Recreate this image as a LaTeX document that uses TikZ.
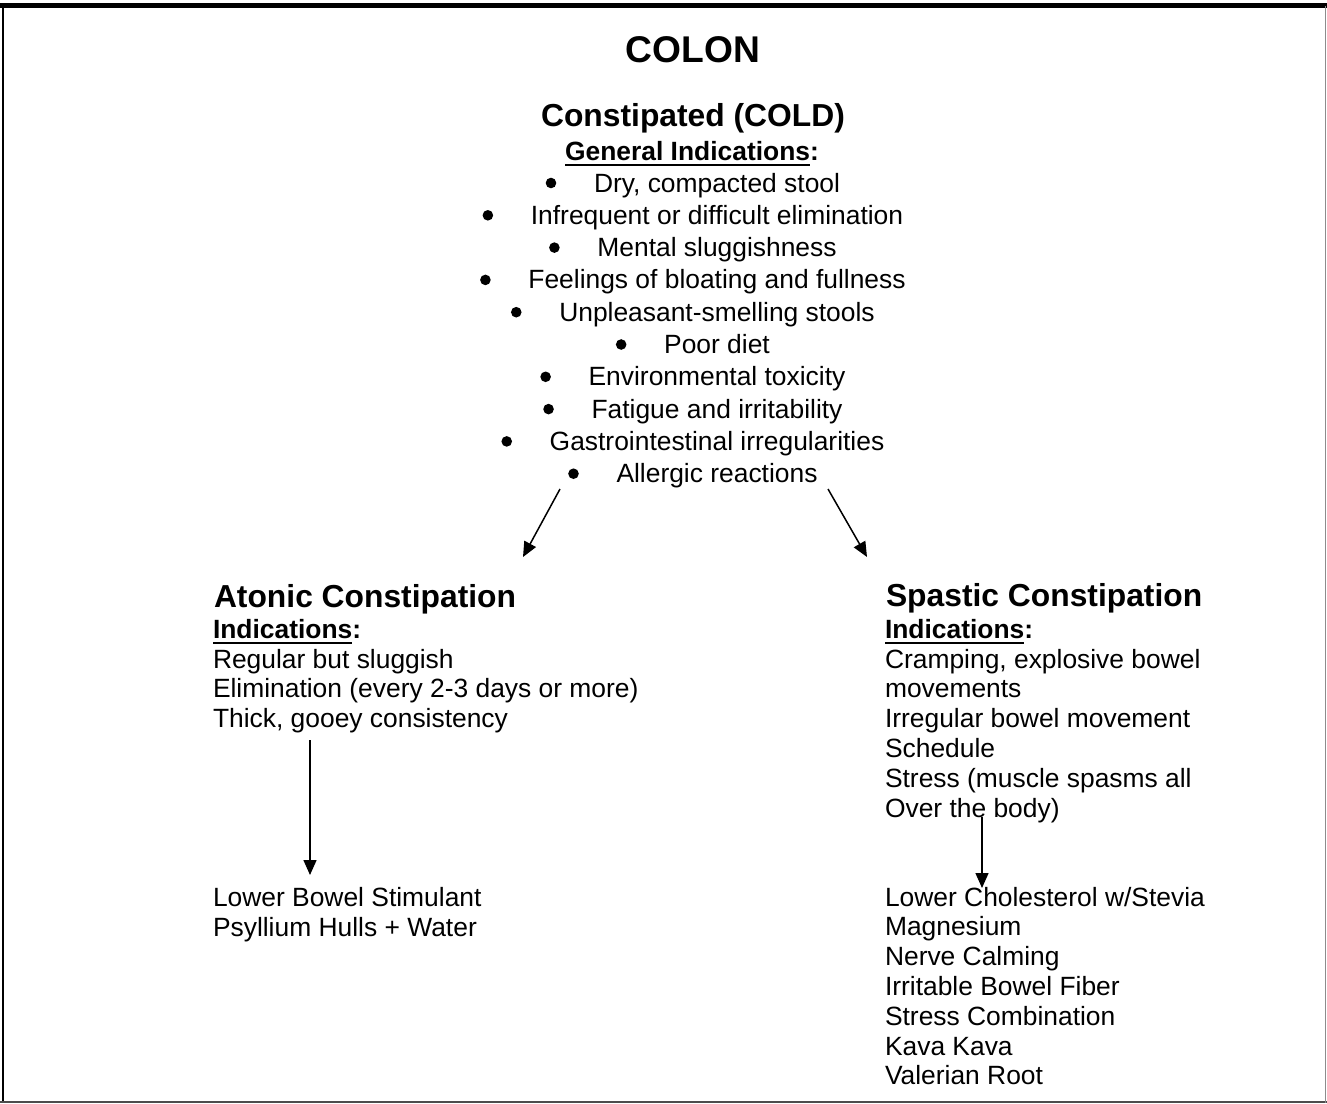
\documentclass[tikz,border=0pt]{standalone}
\usepackage{fontspec}
\setmainfont{Liberation Sans}
\usetikzlibrary{arrows.meta,calc}
\newcommand\bodyfont{\fontsize{26.4}{29.6}\selectfont}
\newcommand\headfont{\fontsize{31.8}{36}\selectfont\bfseries}
\newcommand\titlefont{\fontsize{37.2}{42}\selectfont\bfseries}
\newcommand\myul[1]{\setbox0\hbox{#1}\rlap{\rule[-6.3pt]{\wd0}{2.5pt}}\box0}
\begin{document}
\begin{tikzpicture}[x=1pt,y=-1pt,
  every node/.style={inner sep=0pt,outer sep=0pt},
  txt/.style={anchor=base west,font=\bodyfont},
  ctr/.style={anchor=base,font=\bodyfont},
  arr/.style={line width=1.5pt,-{Triangle[length=15pt,width=13pt]}}]
\useasboundingbox (0,0) rectangle (1327,1103);
% frame
\draw[line width=5pt] (0,5) -- (1327,5);
\draw[line width=2.5pt] (2.8,5) -- (2.8,1102.5);
\draw[line width=2pt,black!70] (0,1102) -- (1327,1102);
\draw[line width=1.5pt,black!45] (1325.5,6) -- (1325.5,1103);
% top block
\node[ctr,font=\titlefont] (title) at (693,62) {COLON};
\node[ctr,font=\headfont] (cold) at (693,126.5) {Constipated (COLD)};
\node[ctr] (gen) at (692,160) {\textbf{\myul{General Indications}:}};
\foreach \t [count=\i from 0] in {{Dry, compacted stool},
  {Infrequent or difficult elimination},
  {Mental sluggishness},
  {Feelings of bloating and fullness},
  {Unpleasant-smelling stools},
  {Poor diet},
  {Environmental toxicity},
  {Fatigue and irritability},
  {Gastrointestinal irregularities},
  {Allergic reactions}}
  {
  \node[ctr] (b\i) at (717,192+32.3*\i) {\t};
  \fill ($(b\i.base west)+(-43,-9)$) circle (5.3);
  }
% left column
\node[txt,font=\headfont] (atonic) at (214,607) {Atonic Constipation};
\node[txt] (aind) at (213,638) {\textbf{\myul{Indications}:}};
\node[txt] (a1) at (213,668) {Regular but sluggish};
\node[txt] (a2) at (213,697.5) {Elimination (every 2-3 days or more)};
\node[txt] (a3) at (213,727) {Thick, gooey consistency};
\node[txt] (ar1) at (213,906) {Lower Bowel Stimulant};
\node[txt] (ar2) at (213,936) {Psyllium Hulls + Water};
% right column
\node[txt,font=\headfont] (spastic) at (886,606) {Spastic Constipation};
\node[txt] (sind) at (885,638) {\textbf{\myul{Indications}:}};
\foreach \t [count=\i from 0] in {{Cramping, explosive bowel},
  {movements},
  {Irregular bowel movement},
  {Schedule},
  {Stress (muscle spasms all},
  {Over the body)}}
  \node[txt] (s\i) at (885,668+29.8*\i) {\t};
\foreach \t [count=\i from 0] in {{Lower Cholesterol w/Stevia},
  {Magnesium},
  {Nerve Calming},
  {Irritable Bowel Fiber},
  {Stress Combination},
  {Kava Kava},
  {Valerian Root}}
  \node[txt] (r\i) at (885,906+29.8*\i) {\t};
% connectors
\coordinate (l1) at (560,489);
\coordinate (l2) at (523,557);
\coordinate (r1) at (828,489);
\coordinate (r2) at (867,557);
\coordinate (v1) at (310,740);
\coordinate (v2) at (310,875);
\coordinate (w1) at (982,817);
\coordinate (w2) at (982,888);
\draw[arr] (l1) -- (l2);
\draw[arr] (r1) -- (r2);
\draw[arr] (v1) -- (v2);
\draw[arr] (w1) -- (w2);
\end{tikzpicture}
\end{document}
